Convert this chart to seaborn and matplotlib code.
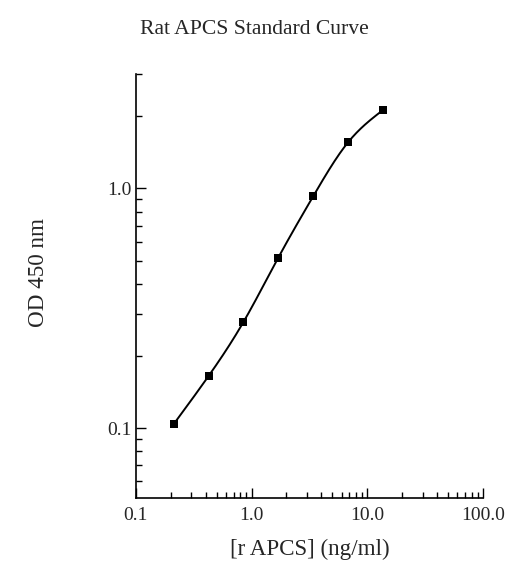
import numpy as np
import matplotlib
matplotlib.use("Agg")
import matplotlib.pyplot as plt
import seaborn as sns
from matplotlib.ticker import LogLocator, FixedLocator, FixedFormatter, NullFormatter

# Standard curve data
conc = [0.2125, 0.425, 0.85, 1.7, 3.4, 6.8, 13.6]
od = [0.104, 0.165, 0.277, 0.514, 0.926, 1.555, 2.12]

x_ticks = [0.1, 1.0, 10.0, 100.0]
x_labels = ["0.1", "1.0", "10.0", "100.0"]
y_ticks = [0.1, 1.0]
y_labels = ["0.1", "1.0"]


def smooth_curve(xs, ys, n=200):
    # natural cubic spline through the points in log-log space
    lx = np.log10(xs)
    ly = np.log10(ys)
    k = len(lx)
    h = np.diff(lx)
    A = np.zeros((k, k))
    b = np.zeros(k)
    A[0, 0] = 1
    A[-1, -1] = 1
    for i in range(1, k - 1):
        A[i, i - 1] = h[i - 1]
        A[i, i] = 2 * (h[i - 1] + h[i])
        A[i, i + 1] = h[i]
        b[i] = 3 * ((ly[i + 1] - ly[i]) / h[i] - (ly[i] - ly[i - 1]) / h[i - 1])
    c = np.linalg.solve(A, b)
    xx = np.linspace(lx[0], lx[-1], n)
    yy = np.empty_like(xx)
    for j, t in enumerate(xx):
        i = min(np.searchsorted(lx, t, side="right") - 1, k - 2)
        d = t - lx[i]
        bi = (ly[i + 1] - ly[i]) / h[i] - h[i] * (2 * c[i] + c[i + 1]) / 3
        di = (c[i + 1] - c[i]) / (3 * h[i])
        yy[j] = ly[i] + bi * d + c[i] * d ** 2 + di * d ** 3
    return 10 ** xx, 10 ** yy


sns.set_style("ticks")
plt.rcParams['font.family'] = ['Liberation Serif', 'DejaVu Serif']

fig = plt.figure(figsize=(5.09, 5.61), dpi=100)
ax = fig.add_axes([0.267, 0.112, 0.682, 0.756])

cx, cy = smooth_curve(conc, od)
sns.lineplot(x=cx, y=cy, ax=ax, color="black", linewidth=1.4, sort=False)
sns.scatterplot(x=conc, y=od, ax=ax, color="black", marker="s", s=26,
                edgecolor="black", linewidth=0, zorder=3)

ax.set_xscale("log")
ax.set_yscale("log")
ax.set_xlim(0.1, 100)
ax.set_ylim(0.051, 3.0)

ax.xaxis.set_major_locator(FixedLocator(x_ticks))
ax.xaxis.set_major_formatter(FixedFormatter(x_labels))
ax.xaxis.set_minor_locator(LogLocator(base=10, subs=np.arange(2, 10)))
ax.xaxis.set_minor_formatter(NullFormatter())
ax.yaxis.set_major_locator(FixedLocator(y_ticks))
ax.yaxis.set_major_formatter(FixedFormatter(y_labels))
ax.yaxis.set_minor_locator(LogLocator(base=10, subs=np.arange(2, 10)))
ax.yaxis.set_minor_formatter(NullFormatter())

ax.tick_params(which="both", direction="in", color="black", width=1.0)
ax.tick_params(which="major", length=7, labelsize=14)
ax.tick_params(which="minor", length=4)
ax.tick_params(axis="x", which="major", pad=6)
ax.tick_params(axis="y", which="major", pad=3)

for s in ["top", "right"]:
    ax.spines[s].set_visible(False)
for s in ["left", "bottom"]:
    ax.spines[s].set_color("black")
    ax.spines[s].set_linewidth(1.2)

ax.set_xlabel("[r APCS] (ng/ml)", fontsize=16.6, labelpad=11)
ax.set_ylabel("OD 450 nm", fontsize=16.6)
ax.yaxis.set_label_coords(-0.25, 0.533)
fig.suptitle("Rat APCS Standard Curve", fontsize=15.6, x=0.5, y=0.965)

fig.savefig("out.png", dpi=100)
